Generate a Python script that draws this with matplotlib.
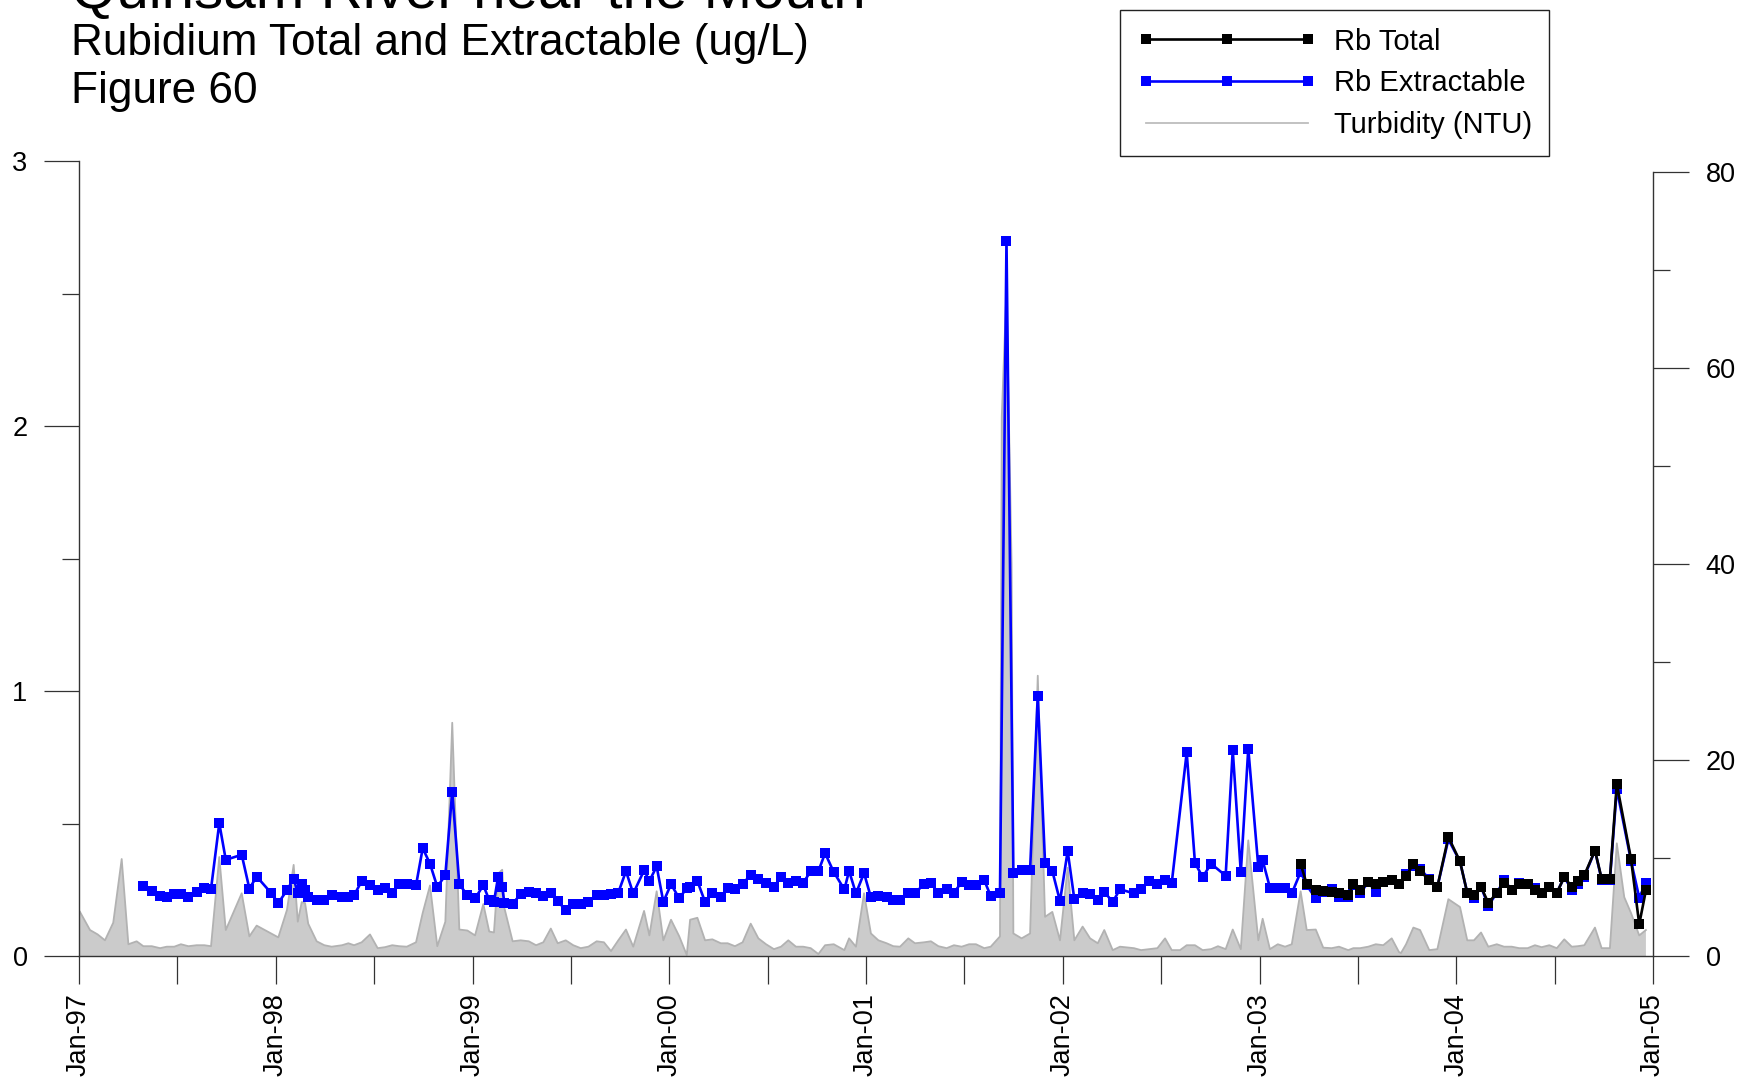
import matplotlib
matplotlib.use("Agg")
import matplotlib.pyplot as plt
from matplotlib.lines import Line2D
from matplotlib.ticker import FixedLocator, NullFormatter

plt.rcParams['font.family'] = ['Liberation Sans', 'DejaVu Sans']

title = "Quinsam River near the Mouth"
subtitle = "Rubidium Total and Extractable (ug/L)"
figure_label = "Figure 60"

# sample times in decimal years
ext_dates = [
    1997.327, 1997.370, 1997.412, 1997.446, 1997.484, 1997.518, 1997.556, 1997.598, 1997.637, 1997.671,
    1997.713, 1997.746, 1997.827, 1997.866, 1997.903, 1997.976,
    1998.013, 1998.057, 1998.091, 1998.112, 1998.132, 1998.149, 1998.165, 1998.208, 1998.247, 1998.284,
    1998.337, 1998.369, 1998.398, 1998.437, 1998.479, 1998.518, 1998.555, 1998.592, 1998.628, 1998.666,
    1998.713, 1998.747, 1998.784, 1998.821, 1998.862, 1998.897, 1998.933, 1998.974,
    1999.013, 1999.055, 1999.085, 1999.109, 1999.130, 1999.151, 1999.162, 1999.204, 1999.245, 1999.286,
    1999.323, 1999.360, 1999.398, 1999.433, 1999.474, 1999.512, 1999.550, 1999.589, 1999.631, 1999.668,
    1999.704, 1999.741, 1999.780, 1999.817, 1999.872, 1999.899, 1999.936, 1999.970,
    2000.009, 2000.051, 2000.089, 2000.106, 2000.143, 2000.182, 2000.219, 2000.262, 2000.297, 2000.334,
    2000.373, 2000.414, 2000.453, 2000.492, 2000.532, 2000.568, 2000.605, 2000.644, 2000.681, 2000.719,
    2000.758, 2000.792, 2000.836, 2000.890, 2000.914, 2000.949, 2000.990,
    2001.025, 2001.063, 2001.105, 2001.139, 2001.173, 2001.215, 2001.249, 2001.296, 2001.330, 2001.368,
    2001.410, 2001.447, 2001.486, 2001.524, 2001.559, 2001.601, 2001.634, 2001.681, 2001.714, 2001.749,
    2001.791, 2001.834, 2001.873, 2001.910, 2001.947, 2001.986,
    2002.025, 2002.059, 2002.101, 2002.139, 2002.178, 2002.211, 2002.254, 2002.291, 2002.362, 2002.398,
    2002.438, 2002.481, 2002.520, 2002.554, 2002.630, 2002.672, 2002.711, 2002.754, 2002.828, 2002.864,
    2002.905, 2002.943, 2002.994,
    2003.016, 2003.053, 2003.093, 2003.130, 2003.164, 2003.209, 2003.240, 2003.286, 2003.324, 2003.367,
    2003.404, 2003.451, 2003.477, 2003.511, 2003.553, 2003.591, 2003.629, 2003.672, 2003.709, 2003.745,
    2003.782, 2003.816, 2003.863, 2003.904, 2003.960,
    2004.019, 2004.056, 2004.090, 2004.126, 2004.163, 2004.206, 2004.243, 2004.282, 2004.320, 2004.363,
    2004.400, 2004.434, 2004.473, 2004.511, 2004.549, 2004.587, 2004.617, 2004.651, 2004.705, 2004.739,
    2004.781, 2004.816, 2004.888, 2004.930, 2004.964,
]
ext_values = [
    0.263, 0.246, 0.226, 0.223, 0.233, 0.233, 0.223, 0.242, 0.257, 0.253,
    0.501, 0.363, 0.382, 0.254, 0.300, 0.238,
    0.200, 0.248, 0.292, 0.238, 0.270, 0.248, 0.223, 0.213, 0.210, 0.229,
    0.223, 0.223, 0.229, 0.283, 0.267, 0.248, 0.258, 0.236, 0.273, 0.273,
    0.267, 0.407, 0.348, 0.261, 0.305, 0.620, 0.271, 0.229,
    0.217, 0.267, 0.211, 0.204, 0.298, 0.261, 0.200, 0.198, 0.233, 0.242,
    0.236, 0.226, 0.238, 0.207, 0.173, 0.195, 0.198, 0.204, 0.232, 0.229,
    0.233, 0.239, 0.320, 0.236, 0.323, 0.283, 0.338, 0.204,
    0.271, 0.217, 0.257, 0.261, 0.283, 0.204, 0.236, 0.223, 0.257, 0.251,
    0.273, 0.305, 0.292, 0.277, 0.261, 0.298, 0.276, 0.283, 0.276, 0.320,
    0.320, 0.388, 0.317, 0.251, 0.321, 0.236, 0.313,
    0.221, 0.226, 0.223, 0.213, 0.210, 0.239, 0.236, 0.273, 0.276, 0.236,
    0.251, 0.238, 0.279, 0.267, 0.267, 0.286, 0.226, 0.238, 2.700, 0.315,
    0.323, 0.326, 0.981, 0.351, 0.321, 0.207,
    0.396, 0.214, 0.236, 0.233, 0.210, 0.242, 0.204, 0.252, 0.236, 0.251,
    0.283, 0.273, 0.288, 0.276, 0.768, 0.351, 0.298, 0.348, 0.303, 0.777,
    0.316, 0.783, 0.336,
    0.361, 0.258, 0.258, 0.258, 0.236, 0.317, 0.267, 0.217, 0.242, 0.251,
    0.223, 0.223, 0.267, 0.236, 0.279, 0.242, 0.279, 0.288, 0.271, 0.310,
    0.340, 0.330, 0.290, 0.260, 0.440,
    0.357, 0.238, 0.220, 0.261, 0.190, 0.238, 0.286, 0.250, 0.275, 0.270,
    0.255, 0.238, 0.260, 0.238, 0.298, 0.250, 0.270, 0.300, 0.398, 0.288,
    0.288, 0.630, 0.360, 0.220, 0.276,
]

tot_dates = [
    2003.209, 2003.240, 2003.286, 2003.324, 2003.367, 2003.404, 2003.451, 2003.477, 2003.511, 2003.553,
    2003.591, 2003.629, 2003.672, 2003.709, 2003.745, 2003.782, 2003.816, 2003.863, 2003.904, 2003.960,
    2004.019, 2004.056, 2004.090, 2004.126, 2004.163, 2004.206, 2004.243, 2004.282, 2004.320, 2004.363,
    2004.400, 2004.434, 2004.473, 2004.511, 2004.549, 2004.587, 2004.617, 2004.651, 2004.705, 2004.739,
    2004.781, 2004.816, 2004.888, 2004.930, 2004.964,
]
tot_values = [
    0.348, 0.271, 0.248, 0.245, 0.242, 0.236, 0.229, 0.271, 0.248, 0.279,
    0.273, 0.279, 0.288, 0.271, 0.301, 0.348, 0.321, 0.286, 0.261, 0.449,
    0.357, 0.238, 0.229, 0.261, 0.200, 0.238, 0.276, 0.248, 0.270, 0.270,
    0.248, 0.238, 0.261, 0.238, 0.298, 0.261, 0.283, 0.305, 0.398, 0.292,
    0.292, 0.649, 0.367, 0.120, 0.248,
]

turb_dates = [
    1997.005, 1997.056, 1997.095, 1997.132, 1997.174, 1997.217, 1997.251, 1997.293,
    1997.327, 1997.370, 1997.412, 1997.446, 1997.484, 1997.518, 1997.556, 1997.598, 1997.637, 1997.671,
    1997.713, 1997.746, 1997.827, 1997.866, 1997.903, 1997.976,
    1998.013, 1998.057, 1998.091, 1998.112, 1998.132, 1998.149, 1998.165, 1998.208, 1998.247, 1998.284,
    1998.337, 1998.369, 1998.398, 1998.437, 1998.479, 1998.518, 1998.555, 1998.592, 1998.628, 1998.666,
    1998.713, 1998.747, 1998.784, 1998.821, 1998.862, 1998.897, 1998.933, 1998.974,
    1999.013, 1999.055, 1999.085, 1999.109, 1999.130, 1999.151, 1999.162, 1999.204, 1999.245, 1999.286,
    1999.323, 1999.360, 1999.398, 1999.433, 1999.474, 1999.512, 1999.550, 1999.589, 1999.631, 1999.668,
    1999.704, 1999.741, 1999.780, 1999.817, 1999.872, 1999.899, 1999.936, 1999.970,
    2000.009, 2000.051, 2000.089, 2000.106, 2000.143, 2000.182, 2000.219, 2000.262, 2000.297, 2000.334,
    2000.373, 2000.414, 2000.453, 2000.492, 2000.532, 2000.568, 2000.605, 2000.644, 2000.681, 2000.719,
    2000.758, 2000.792, 2000.836, 2000.890, 2000.914, 2000.949, 2000.990,
    2001.025, 2001.063, 2001.105, 2001.139, 2001.173, 2001.215, 2001.249, 2001.296, 2001.330, 2001.368,
    2001.410, 2001.447, 2001.486, 2001.524, 2001.559, 2001.601, 2001.634, 2001.681, 2001.690, 2001.714,
    2001.740, 2001.749, 2001.791, 2001.834, 2001.873, 2001.910, 2001.947, 2001.986,
    2002.025, 2002.059, 2002.101, 2002.139, 2002.178, 2002.211, 2002.254, 2002.291, 2002.362, 2002.398,
    2002.438, 2002.481, 2002.520, 2002.554, 2002.596, 2002.630, 2002.672, 2002.711, 2002.754, 2002.789,
    2002.828, 2002.864, 2002.905, 2002.943, 2002.994,
    2003.016, 2003.053, 2003.093, 2003.130, 2003.164, 2003.209, 2003.240, 2003.286, 2003.324, 2003.367,
    2003.404, 2003.451, 2003.477, 2003.511, 2003.553, 2003.591, 2003.629, 2003.672, 2003.709, 2003.719,
    2003.745, 2003.782, 2003.816, 2003.863, 2003.904, 2003.960,
    2004.019, 2004.056, 2004.090, 2004.126, 2004.163, 2004.206, 2004.243, 2004.282, 2004.320, 2004.363,
    2004.400, 2004.434, 2004.473, 2004.511, 2004.549, 2004.587, 2004.617, 2004.651, 2004.705, 2004.739,
    2004.781, 2004.816, 2004.854, 2004.888, 2004.930, 2004.964,
]
turb_values = [
    4.5, 2.65, 2.2, 1.6, 3.4, 9.9, 1.2, 1.5,
    1.0, 1.0, 0.8, 0.95, 0.95, 1.2, 1.0, 1.1, 1.1, 1.0,
    10.1, 2.65, 6.4, 2.0, 3.1, 2.3,
    1.9, 4.7, 9.3, 3.5, 5.5, 5.4, 3.3, 1.5, 1.1, 0.95,
    1.1, 1.3, 1.1, 1.4, 2.2, 0.8, 0.9, 1.1, 1.0, 0.95,
    1.4, 4.4, 7.2, 1.0, 3.5, 23.8, 2.7, 2.6,
    2.1, 5.3, 2.5, 2.4, 8.4, 8.8, 4.9, 1.5, 1.6, 1.5,
    1.1, 1.4, 2.8, 1.3, 1.6, 1.1, 0.8, 0.95, 1.5, 1.4,
    0.5, 1.6, 2.7, 0.95, 4.6, 2.1, 6.6, 1.6,
    3.7, 2.0, 0.1, 3.7, 3.9, 1.6, 1.7, 1.3, 1.3, 1.0,
    1.4, 3.3, 1.8, 1.2, 0.7, 0.95, 1.6, 0.95, 0.95, 0.8,
    0.2, 1.1, 1.2, 0.6, 1.8, 0.95, 6.4,
    2.3, 1.6, 1.3, 1.0, 0.95, 1.8, 1.3, 1.4, 1.5, 1.0,
    0.8, 1.1, 0.95, 1.2, 1.2, 0.8, 0.95, 2.0, 55.0, 68.0,
    40.0, 2.3, 1.8, 2.3, 28.6, 4.0, 4.5, 1.6,
    9.0, 1.6, 3.0, 1.8, 1.3, 2.65, 0.6, 0.95, 0.8, 0.6,
    0.7, 0.8, 1.8, 0.6, 0.6, 1.1, 1.1, 0.6, 0.7, 1.0,
    0.7, 2.7, 0.7, 11.8, 1.6,
    3.8, 0.7, 1.2, 0.95, 1.2, 6.6, 2.65, 2.7, 0.85, 0.8,
    0.95, 0.6, 0.8, 0.8, 0.95, 1.2, 1.1, 1.8, 0.4, 0.3,
    1.2, 2.9, 2.65, 0.6, 0.7, 5.8,
    5.0, 1.6, 1.6, 2.4, 0.95, 1.2, 0.95, 0.95, 0.8, 0.8,
    1.1, 0.9, 1.1, 0.8, 1.7, 0.95, 1.0, 1.1, 2.9, 0.8,
    0.8, 11.5, 6.0, 4.4, 2.1, 2.65,
]

year_ticks = [1997, 1998, 1999, 2000, 2001, 2002, 2003, 2004, 2005]
year_labels = ["Jan-97", "Jan-98", "Jan-99", "Jan-00", "Jan-01", "Jan-02", "Jan-03", "Jan-04", "Jan-05"]
half_year_ticks = [1997.5, 1998.5, 1999.5, 2000.5, 2001.5, 2002.5, 2003.5, 2004.5]
left_ticks = [0, 1, 2, 3]
left_minor = [0.5, 1.5, 2.5]
right_ticks = [0, 20, 40, 60, 80]
right_minor = [10, 30, 50, 70]

W, H = 1743, 1083
fig = plt.figure(figsize=(W / 100, H / 100), dpi=100)

L = 79 / W
R = 1653 / W
B = 1 - 956 / H
T_left = 1 - 161 / H
T_right = 1 - 172 / H

tick_fs = 19.5
axis_color = '#333333'
LW = 1.9
MS = 7.2

ax2 = fig.add_axes([L, B, R - L, T_right - B])
ax = fig.add_axes([L, B, R - L, T_left - B])
ax.set_zorder(ax2.get_zorder() + 1)
ax.patch.set_visible(False)

# turbidity (right axis)
ax2.fill_between(turb_dates, turb_values, 0, facecolor='#cbcbcb', edgecolor='none', zorder=1)
ax2.plot(turb_dates, turb_values, color='#b2b2b2', lw=1.3, zorder=2)
ax2.set_xlim(1997, 2005)
ax2.set_ylim(0, 80)
for s in ['top', 'left', 'bottom']:
    ax2.spines[s].set_visible(False)
ax2.spines['right'].set_color(axis_color)
ax2.spines['right'].set_linewidth(1.0)
ax2.yaxis.tick_right()
ax2.yaxis.set_major_locator(FixedLocator(right_ticks))
ax2.yaxis.set_minor_locator(FixedLocator(right_minor))
ax2.yaxis.set_minor_formatter(NullFormatter())
ax2.tick_params(axis='y', which='major', direction='out', length=26, width=0.9,
                color=axis_color, labelsize=tick_fs, pad=12)
ax2.tick_params(axis='y', which='minor', direction='out', length=12, width=0.9, color=axis_color)
ax2.set_xticks([])

# rubidium (left axis)
ax.plot(ext_dates, ext_values, color='#0000ff', lw=LW, marker='s', ms=MS,
        markeredgewidth=0, zorder=3)
ax.plot(tot_dates, tot_values, color='#000000', lw=LW, marker='s', ms=MS,
        markeredgewidth=0, zorder=4)
ax.set_xlim(1997, 2005)
ax.set_ylim(0, 3)
for s in ['top', 'right']:
    ax.spines[s].set_visible(False)
for s in ['left', 'bottom']:
    ax.spines[s].set_color(axis_color)
    ax.spines[s].set_linewidth(1.0)
ax.yaxis.set_major_locator(FixedLocator(left_ticks))
ax.yaxis.set_minor_locator(FixedLocator(left_minor))
ax.yaxis.set_minor_formatter(NullFormatter())
ax.tick_params(axis='y', which='major', direction='out', length=25, width=0.9,
               color=axis_color, labelsize=tick_fs, pad=12)
ax.tick_params(axis='y', which='minor', direction='out', length=12, width=0.9, color=axis_color)
ax.xaxis.set_major_locator(FixedLocator(year_ticks))
ax.set_xticklabels(year_labels, rotation=90)
ax.xaxis.set_minor_locator(FixedLocator(half_year_ticks))
ax.xaxis.set_minor_formatter(NullFormatter())
ax.tick_params(axis='x', which='major', direction='out', length=20, width=0.9,
               color=axis_color, labelsize=tick_fs, pad=7)
ax.tick_params(axis='x', which='minor', direction='out', length=20, width=0.9, color=axis_color)

# titles
tx = 71 / W
fig.text(tx, 1 - 8 / H, title, fontsize=42, va='baseline', ha='left')
fig.text(tx, 1 - 55.5 / H, subtitle, fontsize=31.8, va='baseline', ha='left')
fig.text(tx, 1 - 103 / H, figure_label, fontsize=31.8, va='baseline', ha='left')

# legend
handles = [
    Line2D([], [], color='#000000', lw=LW, marker='s', ms=MS, markeredgewidth=0),
    Line2D([], [], color='#0000ff', lw=LW, marker='s', ms=MS, markeredgewidth=0),
    Line2D([], [], color='#bdbdbd', lw=1.3),
]
labels = ["Rb Total", "Rb Extractable", "Turbidity (NTU)"]
leg = fig.legend(handles, labels, loc='upper left',
                 bbox_to_anchor=(1120 / W, 1 - 10 / H), bbox_transform=fig.transFigure,
                 frameon=True, fancybox=False, framealpha=1, edgecolor='#222222',
                 borderaxespad=0, numpoints=3, handlelength=6.15, fontsize=21,
                 borderpad=0.6, labelspacing=0.47, handletextpad=0.58)
leg.get_frame().set_linewidth(1.0)

fig.savefig("out.png", dpi=100)
